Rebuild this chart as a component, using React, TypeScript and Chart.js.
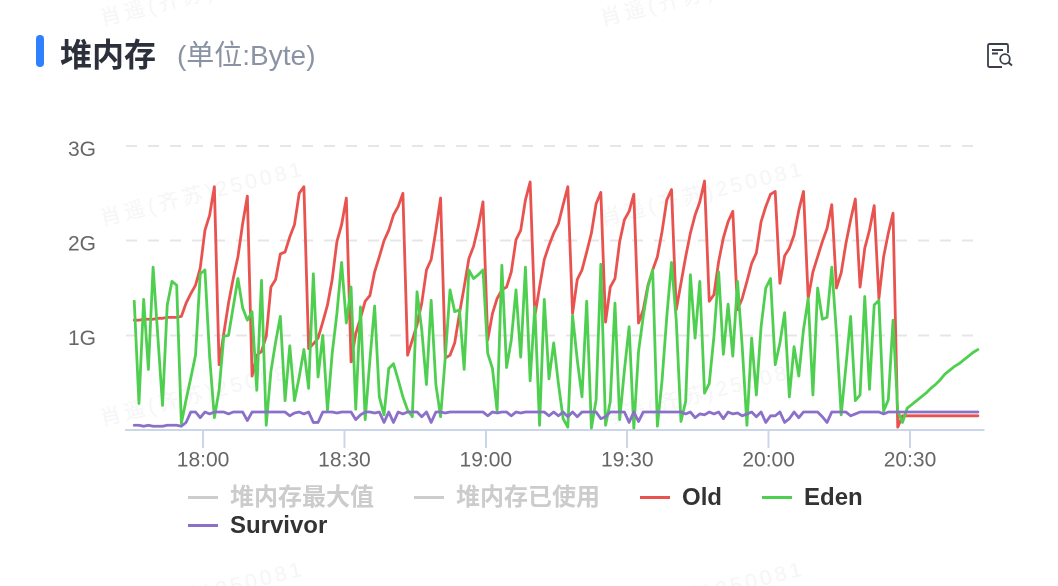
import React, { useEffect, useRef } from "react";
import { Chart, registerables } from "chart.js";

Chart.register(...registerables);

const oldGen = [
  1.16,1.16,1.17,1.17,1.17,1.18,1.18,1.19,1.19,1.19,1.2,1.34,1.44,1.53,1.71,2.11,2.27,2.57,0.69,1.02,
  1.34,1.6,1.83,2.18,2.47,0.57,0.79,0.83,0.99,1.51,1.59,1.86,1.88,2.04,2.17,2.5,2.57,0.86,0.91,0.97,
  1.14,1.32,1.59,1.99,2.17,2.45,0.72,1.02,1.18,1.36,1.42,1.67,1.83,2.0,2.11,2.27,2.36,2.5,0.79,0.95,
  1.11,1.34,1.69,1.8,2.11,2.45,0.76,0.79,0.92,1.23,1.51,1.81,1.94,2.15,2.41,0.95,1.23,1.39,1.48,1.51,
  1.67,2.01,2.11,2.43,2.62,1.2,1.51,1.8,1.95,2.08,2.18,2.38,2.57,1.23,1.59,1.69,1.88,2.08,2.39,2.51,
  1.14,1.51,1.6,1.99,2.22,2.31,2.49,1.13,1.27,1.53,1.69,1.83,2.1,2.43,2.54,1.27,1.55,1.83,2.08,2.27,
  2.41,2.63,1.36,1.43,1.78,2.03,2.2,2.31,1.27,1.39,1.57,1.76,1.87,2.2,2.36,2.49,2.52,1.55,1.84,1.92,
  2.06,2.32,2.52,1.39,1.67,1.83,1.99,2.13,2.38,1.5,1.66,1.97,2.22,2.44,1.51,1.92,2.11,2.37,1.39,1.83,
  2.08,2.29,0.03,0.15,0.15,0.15,0.15,0.15,0.15,0.15,0.15,0.15,0.15,0.15,0.15,0.15,0.15,0.15,0.15,0.15,
];

const eden = [
  1.36,0.28,1.38,0.64,1.72,0.99,0.26,1.32,1.57,1.53,0.07,0.32,0.55,0.79,1.65,1.69,0.77,0.13,0.42,0.99,
  1.0,1.3,1.6,1.29,1.16,1.25,0.42,1.58,0.05,0.62,0.93,1.2,0.31,0.89,0.31,0.56,0.85,0.44,1.65,0.56,
  1.0,0.21,0.81,1.23,1.77,1.13,1.51,0.22,1.3,0.11,0.74,1.31,0.35,0.16,0.65,0.7,0.53,0.35,0.21,0.14,
  1.46,1.06,0.48,1.37,0.48,0.14,0.77,1.48,1.25,1.27,0.64,1.69,1.6,1.64,1.69,0.81,0.65,0.2,1.74,0.66,
  0.95,1.48,0.77,1.72,0.52,1.3,0.05,1.38,0.54,0.92,0.49,0.12,0.03,1.21,0.74,0.35,1.36,0.02,0.32,1.75,
  0.05,0.3,1.34,0.11,0.63,1.09,0.02,0.83,1.2,1.51,1.69,0.04,0.53,1.2,1.77,1.16,0.09,0.3,1.64,0.97,
  1.57,0.39,0.49,0.99,1.67,0.8,1.33,0.78,1.57,0.88,0.05,0.97,0.37,1.09,1.5,1.6,0.69,0.92,1.24,0.35,
  0.88,0.57,1.06,1.39,0.37,1.5,1.17,1.19,1.72,1.02,0.16,0.67,1.2,0.31,0.37,1.41,0.43,1.32,1.37,0.2,
  0.32,1.16,0.2,0.08,0.23,0.27,0.31,0.35,0.39,0.44,0.48,0.53,0.59,0.63,0.67,0.7,0.74,0.78,0.82,0.85,
];

const survivor = [
  0.05,0.05,0.04,0.05,0.04,0.04,0.04,0.05,0.05,0.05,0.04,0.08,0.19,0.19,0.13,0.19,0.17,0.19,0.19,0.19,
  0.17,0.19,0.19,0.19,0.1,0.19,0.19,0.19,0.19,0.19,0.19,0.19,0.19,0.15,0.18,0.19,0.17,0.19,0.08,0.08,
  0.19,0.19,0.19,0.18,0.19,0.19,0.19,0.11,0.16,0.19,0.19,0.18,0.19,0.08,0.19,0.08,0.19,0.17,0.19,0.19,
  0.19,0.14,0.19,0.08,0.19,0.19,0.18,0.19,0.19,0.19,0.19,0.19,0.19,0.19,0.19,0.15,0.19,0.18,0.19,0.19,
  0.15,0.19,0.18,0.19,0.19,0.19,0.19,0.19,0.15,0.19,0.15,0.19,0.14,0.19,0.14,0.19,0.19,0.19,0.19,0.12,
  0.14,0.19,0.19,0.19,0.19,0.08,0.19,0.09,0.19,0.19,0.19,0.19,0.19,0.19,0.19,0.19,0.19,0.17,0.19,0.13,
  0.17,0.16,0.19,0.17,0.19,0.12,0.19,0.17,0.18,0.15,0.17,0.19,0.14,0.19,0.08,0.15,0.15,0.19,0.08,0.12,
  0.19,0.13,0.19,0.19,0.19,0.19,0.14,0.08,0.19,0.19,0.19,0.19,0.15,0.17,0.19,0.19,0.19,0.19,0.19,0.17,
  0.19,0.19,0.19,0.19,0.19,0.19,0.19,0.19,0.19,0.19,0.19,0.19,0.19,0.19,0.19,0.19,0.19,0.19,0.19,0.19,
];

const firstMinute = 1065.4; // 17:45 and a bit, in minutes since midnight
const minutes = oldGen.map((_, i) => firstMinute + i);
const xMin = 1063.65;
const xMax = 1245.7;

const legendNames = ["堆内存最大值", "堆内存已使用", "Old", "Eden", "Survivor"];
const legendColors = ["#cccccc", "#cccccc", "#e8534f", "#4fcf50", "#8a70c9"];
const legendTextColors = ["#cccccc", "#cccccc", "#333333", "#333333", "#333333"];

const watermark = "肖遥(齐苏)250081";
const watermarkSpots = [
  [100, 15], [600, 15],
  [100, 215], [600, 215],
  [100, 415], [600, 415],
  [100, 615], [600, 615],
];

const FONT = '"Liberation Sans", "Noto Sans CJK SC", sans-serif';
const AXIS = "#ccd6eb";

function clock(m: number) {
  const h = Math.floor(m / 60);
  const mm = Math.round(m - h * 60);
  return `${String(h).padStart(2, "0")}:${String(mm).padStart(2, "0")}`;
}

function series(label: string, values: number[], color: string, order: number) {
  return {
    label,
    data: values.map((y, i) => ({ x: minutes[i], y })),
    borderColor: color,
    backgroundColor: color,
    borderWidth: 2.8,
    borderJoinStyle: "round",
    borderCapStyle: "round",
    pointRadius: 0,
    tension: 0,
    order,
  };
}

export default function App() {
  const ref = useRef<HTMLCanvasElement | null>(null);

  useEffect(() => {
    document.body.style.margin = "0";
    const chart = new Chart(ref.current!, {
      type: "line",
      data: {
        datasets: [
          series("Old", oldGen, legendColors[2], 3),
          series("Eden", eden, legendColors[3], 2),
          series("Survivor", survivor, legendColors[4], 1),
        ],
      },
      options: {
        animation: false,
        responsive: false,
        devicePixelRatio: 2,
        layout: { padding: { left: 0, top: 146, right: 74, bottom: 0 } },
        plugins: { legend: { display: false }, tooltip: { enabled: false } },
        scales: {
          x: {
            type: "linear",
            min: xMin,
            max: xMax,
            afterFit: (s: any) => {
              s.height = 156;
            },
            border: { color: AXIS, width: 2 },
            grid: {
              drawOnChartArea: false,
              drawTicks: true,
              tickLength: 18,
              tickColor: AXIS,
              tickWidth: 2,
            },
            ticks: {
              stepSize: 30,
              includeBounds: false,
              autoSkip: false,
              maxRotation: 0,
              color: "#666666",
              padding: 0,
              font: { family: FONT, size: 21 },
              callback: (v: any) => clock(Number(v)),
            },
          },
          y: {
            min: 0,
            max: 3,
            afterFit: (s: any) => {
              s.width = 126;
            },
            border: { display: false, dash: [11, 11] },
            grid: {
              drawTicks: false,
              lineWidth: 2,
              color: (c: any) => (c.tick && c.tick.value === 0 ? "rgba(0,0,0,0)" : "#e6e6e6"),
            },
            ticks: {
              stepSize: 1,
              color: "#666666",
              padding: 30,
              labelOffset: 4,
              font: { family: FONT, size: 21 },
              callback: (v: any) => (v === 0 ? null : `${v}G`),
            },
          },
        },
      },
    } as any);
    return () => chart.destroy();
  }, []);

  return (
    <div style={{ position: "relative", width: 1058, height: 586, overflow: "hidden", fontFamily: FONT }}>
      {watermarkSpots.map(([x, y], i) => (
        <span
          key={i}
          style={{
            position: "absolute",
            left: x,
            top: y - 13,
            fontSize: 21,
            letterSpacing: 3.5,
            color: "#f6f6f6",
            whiteSpace: "nowrap",
            transform: "rotate(-14deg)",
            transformOrigin: "0 50%",
          }}
        >
          {watermark}
        </span>
      ))}
      <canvas
        ref={ref}
        width={1058}
        height={586}
        style={{ position: "absolute", left: 0, top: 0, width: 1058, height: 586 }}
      />
      <div
        style={{
          position: "absolute",
          left: 36,
          top: 35,
          width: 8,
          height: 32,
          borderRadius: 4,
          background: "#2f80ff",
        }}
      />
      <div
        style={{
          position: "absolute",
          left: 60,
          top: 36,
          fontSize: 32,
          lineHeight: "38px",
          fontWeight: 700,
          color: "#2b303b",
          whiteSpace: "nowrap",
        }}
      >
        堆内存
      </div>
      <div
        style={{
          position: "absolute",
          left: 177,
          top: 40,
          fontSize: 28,
          lineHeight: "32px",
          color: "#8a93a3",
          whiteSpace: "nowrap",
        }}
      >
        (单位:Byte)
      </div>
      <svg
        width="28"
        height="28"
        viewBox="0 0 28 28"
        style={{ position: "absolute", left: 986, top: 43 }}
        fill="none"
        stroke="#3a3f4a"
      >
        <path d="M16 24 H3.5 a1.5 1.5 0 0 1 -1.5 -1.5 V2.5 A1.5 1.5 0 0 1 3.5 1 H20.5 A1.5 1.5 0 0 1 22 2.5 V10" strokeWidth="1.8" />
        <path d="M6 7 H17 M6 10.5 H12" strokeWidth="1.8" />
        <circle cx="19" cy="16" r="4.8" strokeWidth="1.8" />
        <path d="M22.5 19.5 L26 22.5" strokeWidth="2" />
      </svg>
      <div
        style={{
          position: "absolute",
          left: 188,
          top: 483,
          width: 720,
          display: "flex",
          flexWrap: "wrap",
          columnGap: 40,
          fontSize: 24,
          fontWeight: 700,
          lineHeight: "28px",
        }}
      >
        {legendNames.map((name, i) => (
          <div key={name} style={{ display: "flex", alignItems: "center", whiteSpace: "nowrap" }}>
            <span
              style={{
                display: "inline-block",
                width: 30,
                height: 3,
                marginRight: 12,
                background: legendColors[i],
              }}
            />
            <span style={{ color: legendTextColors[i] }}>{name}</span>
          </div>
        ))}
      </div>
    </div>
  );
}
